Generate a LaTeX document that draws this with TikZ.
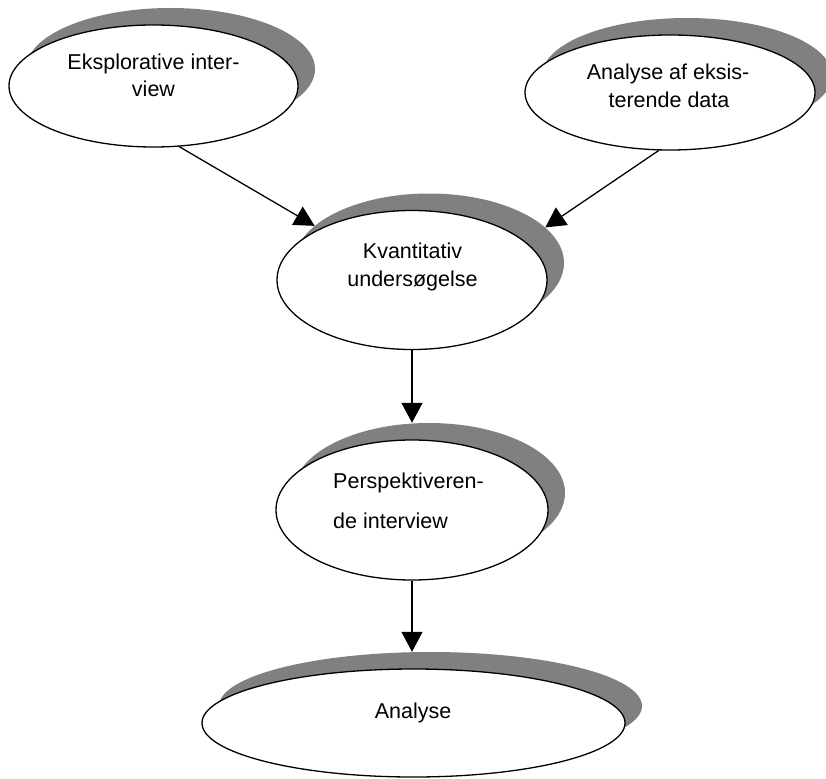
\documentclass[tikz,border=0pt]{standalone}
\usepackage{fontspec}
\setmainfont{Liberation Sans}
\usetikzlibrary{shapes.geometric,arrows.meta}
\definecolor{shadowgray}{RGB}{128,128,128}
\begin{document}
\begin{tikzpicture}[x=1pt,y=-1pt,
  bub/.style={ellipse,draw=black,fill=white,line width=1.3pt,inner sep=0pt},
  shad/.style={ellipse,fill=shadowgray,draw=none,inner sep=0pt},
  lbl/.style={inner sep=0pt,anchor=base,font=\fontsize{21.5}{26}\selectfont},
  arr/.style={line width=1.3pt,-{Triangle[length=20pt,width=21pt]}}]
\useasboundingbox (0,0) rectangle (826,778);
% shadows
\node[shad,minimum width=289pt,minimum height=122pt] (s1) at (170.5,69) {};
\node[shad,minimum width=290pt,minimum height=115pt] (s2) at (687,75.5) {};
\node[shad,minimum width=270pt,minimum height=139pt] (s3) at (429,263) {};
\node[shad,minimum width=272pt,minimum height=140pt] (s4) at (429,493) {};
\node[shad,minimum width=423pt,minimum height=108pt] (s5) at (430.5,706) {};
% ellipses
\node[bub,minimum width=289pt,minimum height=122pt] (e1) at (153.5,86) {};
\node[bub,minimum width=290pt,minimum height=115pt] (e2) at (670,92.5) {};
\node[bub,minimum width=270pt,minimum height=139pt] (e3) at (412,280) {};
\node[bub,minimum width=272pt,minimum height=140pt] (e4) at (412,510) {};
\node[bub,minimum width=423pt,minimum height=108pt] (e5) at (413.5,723) {};
% texts
\node[lbl] (t1a) at (153.5,70) {Eksplorative inter-};
\node[lbl] (t1b) at (153.5,97) {view};
\node[lbl] (t2a) at (668,80) {Analyse af eksis-};
\node[lbl] (t2b) at (669,108) {terende data};
\node[lbl] (t3a) at (412.5,258) {Kvantitativ};
\node[lbl] (t3b) at (412.5,286) {undersøgelse};
\node[lbl,anchor=base west] (t4a) at (333,488) {Perspektiveren-};
\node[lbl,anchor=base west] (t4b) at (333,528) {de interview};
\node[lbl] (t5) at (413,718) {Analyse};
% arrows
\draw[arr] (e1.-67) -- (s3.162);
\draw[arr] (e2.-101) -- (s3.17);
\draw[arr] (e3.south) -- (e3.south |- s4.north);
\draw[arr] (e4.south) -- (e4.south |- s5.north);
\end{tikzpicture}
\end{document}
